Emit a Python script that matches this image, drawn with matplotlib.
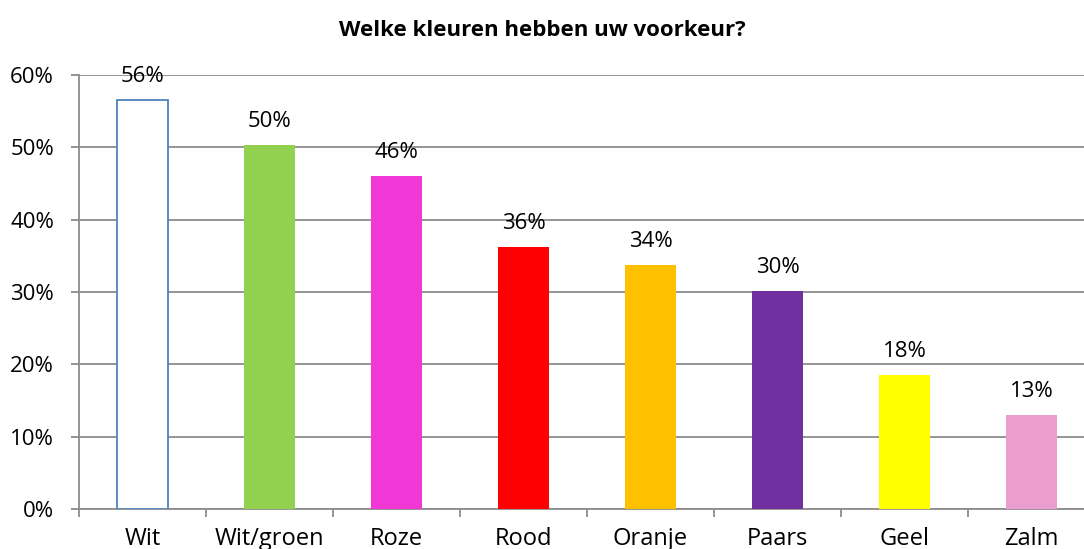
import matplotlib
matplotlib.use('Agg')
import matplotlib.pyplot as plt
import numpy as np

categories = ['Wit', 'Wit/groen', 'Roze', 'Rood', 'Oranje', 'Paars', 'Geel', 'Zalm']
values = [56.5, 50.3, 46.0, 36.2, 33.7, 30.1, 18.5, 13.0]
value_labels = ['56%', '50%', '46%', '36%', '34%', '30%', '18%', '13%']
bar_colors = ['white', '#92D050', '#F237D7', '#FF0000', '#FFC000', '#7030A0', '#FFFF00', '#EA9DCE']
edge_colors = ['#4F81BD', 'none', 'none', 'none', 'none', 'none', 'none', 'none']

plt.rcParams['font.family'] = ['Open Sans', 'DejaVu Sans']

fig = plt.figure(figsize=[10.84, 5.49], dpi=100)
ax = fig.add_axes([0.0729, 0.0729, 0.9372, 0.7905])

x = np.arange(len(categories))
ax.bar(x, values, width=0.4, color=bar_colors, edgecolor=edge_colors, linewidth=1.3, zorder=3)

for xi, v, lab in zip(x, values, value_labels):
    ax.text(xi, v + 1.8, lab, ha='center', va='bottom', fontsize=16)

ax.set_xlim(-0.5, len(categories) - 0.5)
ax.set_ylim(0, 60)
ax.set_yticks(np.arange(0, 61, 10))
ax.set_yticklabels([f'{t}%' for t in range(0, 61, 10)], fontsize=16)
ax.yaxis.grid(True, color='#8c8c8c', linewidth=1.3, zorder=0)

ax.set_xticks(x)
ax.set_xticklabels(categories, fontsize=17)
ax.set_xticks(np.arange(-0.5, len(categories), 1), minor=True)
ax.tick_params(axis='x', which='major', length=0, pad=13)
ax.tick_params(axis='x', which='minor', length=6, color='#8c8c8c', width=1.3)
ax.tick_params(axis='y', length=6, color='#8c8c8c', width=1.3, pad=12)

for s in ['top', 'right']:
    ax.spines[s].set_visible(False)
for s in ['left', 'bottom']:
    ax.spines[s].set_color('#8c8c8c')
    ax.spines[s].set_linewidth(1.3)

fig.text(0.5, 0.945, 'Welke kleuren hebben uw voorkeur?', ha='center', va='center',
         fontsize=16, fontweight='bold')

plt.savefig(fname='out.png', dpi=100)
